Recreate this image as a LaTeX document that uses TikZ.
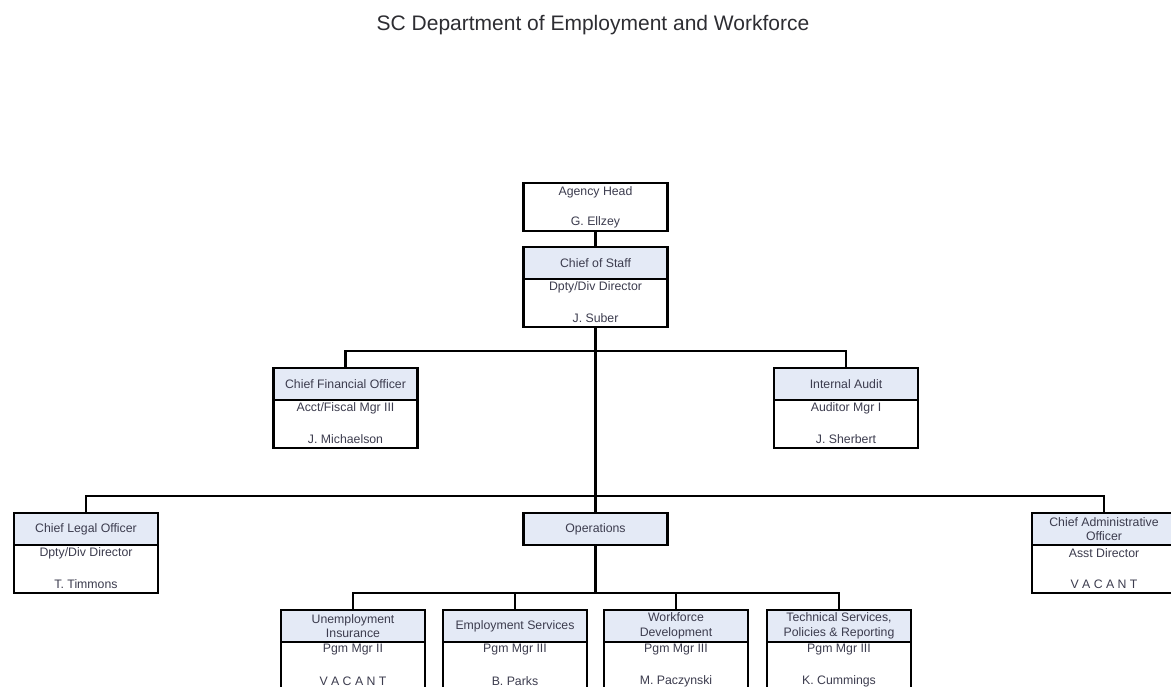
\documentclass[tikz,border=0pt]{standalone}
\usepackage{fontspec}
\setmainfont{Liberation Sans}
\begin{document}
\definecolor{hdrfill}{RGB}{228,234,246}
\definecolor{inkgray}{RGB}{60,60,78}
\definecolor{titlegray}{RGB}{45,45,50}
\tikzset{
  hdr/.style={rectangle, draw=black, line width=2.4pt, fill=hdrfill, minimum width=144pt,
    minimum height=32pt, inner sep=0pt, outer sep=0pt, align=center, text=inkgray,
    font=\fontsize{12.3}{14.5}\selectfont},
  bodybox/.style={rectangle, draw=black, line width=2.4pt, fill=white, minimum width=144pt,
    minimum height=48pt, inner sep=0pt, outer sep=0pt},
  txt/.style={inner sep=0pt, text=inkgray, font=\fontsize{12.3}{14.5}\selectfont},
  conn/.style={draw=black, line width=2.2pt}
}
% one org unit: shaded header, white body with role and holder
\newcommand{\orgunit}[6]{%
  \node[hdr, anchor=north] (#1h) at (#2,#3) {#4};
  \node[bodybox, anchor=north] (#1b) at (#1h.south) {};
  \draw[line width=2.4pt] (#1h.south west) -- (#1h.south east);
  \node[txt] (#1r) at ([yshift=-8pt]#1b.north) {#5};
  \node[txt] (#1n) at ([yshift=-39pt]#1b.north) {#6};
}
\begin{tikzpicture}[x=1pt, y=-1pt]
\useasboundingbox (0,0) rectangle (1171,687);

\node[anchor=base, text=titlegray, font=\fontsize{21}{24}\selectfont] (title) at (593,31)
  {SC Department of Employment and Workforce};

% top of the agency
\node[bodybox, anchor=north] (head) at (595.5,183) {};
\node[txt] (headr) at ([yshift=-9pt]head.north) {Agency Head};
\node[txt] (headn) at ([yshift=-39pt]head.north) {G. Ellzey};

\orgunit{staff}{595.5}{247}{Chief of Staff}{Dpty/Div Director}{J. Suber}

\orgunit{cfo}{345.5}{368}{Chief Financial Officer}{Acct/Fiscal Mgr III}{J. Michaelson}
\orgunit{audit}{846}{368}{Internal Audit}{Auditor Mgr I}{J. Sherbert}

\orgunit{legal}{86}{513}{Chief Legal Officer}{Dpty/Div Director}{T. Timmons}
\orgunit{admin}{1104}{513}{Chief Administrative\\Officer}{Asst Director}{V A C A N T}
\node[hdr, anchor=north] (ops) at (595.5,513) {Operations};

\orgunit{ui}{353}{610}{Unemployment\\Insurance}{Pgm Mgr II}{V A C A N T}
\orgunit{es}{515}{610}{Employment Services}{Pgm Mgr III}{B. Parks}
\orgunit{wd}{676}{610}{Workforce\\Development}{Pgm Mgr III}{M. Paczynski}
\orgunit{ts}{839}{610}{Technical Services,\\Policies \& Reporting}{Pgm Mgr III}{K. Cummings}

% reporting lines
\coordinate (busA) at (595.5,351);
\coordinate (busB) at (595.5,496);
\coordinate (busC) at (595.5,593);

\draw[conn] (head.south) -- (staffh.north);
\draw[conn] (staffb.south) -- (busA);
\draw[conn] (busA) -| (cfoh.north);
\draw[conn] (busA) -| (audith.north);
\draw[conn] (busA) -- (busB);
\draw[conn] (busB) -| (legalh.north);
\draw[conn] (busB) -| (adminh.north);
\draw[conn] (busB) -- (ops.north);
\draw[conn] (ops.south) -- (busC);
\draw[conn] (busC) -| (uih.north);
\draw[conn] (busC) -| (esh.north);
\draw[conn] (busC) -| (wdh.north);
\draw[conn] (busC) -| (tsh.north);
\end{tikzpicture}
\end{document}
